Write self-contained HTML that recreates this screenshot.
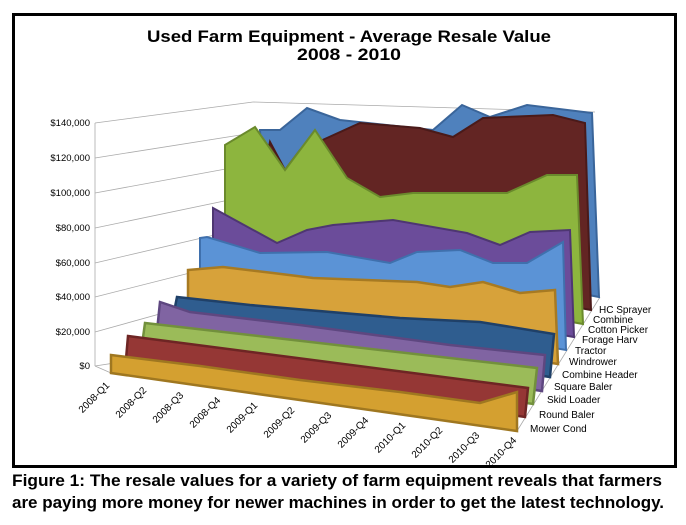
<!DOCTYPE html>
<html><head><meta charset="utf-8"><style>
body{margin:0;background:#fff;width:686px;height:520px;overflow:hidden;font-family:"Liberation Sans",sans-serif}
</style></head><body>
<svg width="686" height="520" xmlns="http://www.w3.org/2000/svg" font-family="Liberation Sans, sans-serif">
<rect x="13.5" y="14.5" width="662" height="452" fill="#fff" stroke="#000" stroke-width="3"/>
<text x="349" y="42" text-anchor="middle" font-size="17" font-weight="bold" textLength="404" lengthAdjust="spacingAndGlyphs">Used Farm Equipment - Average Resale Value</text>
<text x="349" y="60" text-anchor="middle" font-size="17" font-weight="bold" textLength="104" lengthAdjust="spacingAndGlyphs">2008 - 2010</text>
<g stroke="#aaa" stroke-width="0.8" fill="none">
<line x1="95" y1="123" x2="95" y2="366"/>
<line x1="95" y1="366" x2="265" y2="340"/>
<line x1="253" y1="102" x2="595" y2="112"/>
<line x1="95" y1="123" x2="253" y2="102"/>
<line x1="95" y1="158" x2="253" y2="133"/>
<line x1="95" y1="193" x2="253" y2="164"/>
<line x1="95" y1="228" x2="253" y2="195"/>
<line x1="95" y1="263" x2="253" y2="226"/>
<line x1="95" y1="297" x2="253" y2="257"/>
<line x1="95" y1="332" x2="253" y2="288"/>
<line x1="95" y1="366" x2="111" y2="373"/>
<line x1="111" y1="373" x2="517" y2="431"/>
<line x1="517" y1="431" x2="600" y2="297"/>
</g>
<g font-size="9.5" text-anchor="end">
<text x="90" y="126">$140,000</text><text x="90" y="161">$120,000</text>
<text x="90" y="196">$100,000</text><text x="90" y="231">$80,000</text>
<text x="90" y="266">$60,000</text><text x="90" y="300">$40,000</text>
<text x="90" y="335">$20,000</text><text x="90" y="369">$0</text>
</g>
<polygon fill="#4f81bd" stroke="#3a659a" stroke-width="2" points="260,130 280,130 307,108 340,120 433,130 462,105 490,117 527,105 592,113 599,297 265,233"/>
<polygon fill="#632523" stroke="#4a1a19" stroke-width="2" points="270,142 285,170 300,150 327,138 360,123 420,128 453,137 483,118 553,115 585,123 591,310 250,247"/>
<polygon fill="#8db53e" stroke="#6a8a2c" stroke-width="2" points="225,145 255,127 285,170 315,130 347,178 380,197 413,193 507,193 547,175 577,175 583,324 234,261 225,261"/>
<polygon fill="#6b4c9a" stroke="#4e3672" stroke-width="2" points="213,208 277,243 307,230 333,225 393,220 467,233 500,245 530,232 570,230 574,337 219,275 213,275"/>
<polygon fill="#5b93d6" stroke="#3f70ad" stroke-width="2" points="200,238 207,237 260,253 327,252 390,263 417,252 460,250 493,263 527,263 563,242 566,350 200,289"/>
<polygon fill="#d7a23a" stroke="#a77a22" stroke-width="2.5" points="188,270 223,267 273,273 313,278 417,282 450,287 483,282 520,293 555,290 558,364 188,303"/>
<polygon fill="#2f5d8f" stroke="#1f4068" stroke-width="2.5" points="177,297 250,305 400,318 480,322 554,334 550,377 173,317"/>
<polygon fill="#8064a2" stroke="#5e4780" stroke-width="2.5" points="160,302 190,312 300,325 450,345 545,355 542,391 157,331"/>
<polygon fill="#9bbb59" stroke="#72903c" stroke-width="2.5" points="145,323 537,368 533,404 142,345"/>
<polygon fill="#953735" stroke="#6e2524" stroke-width="2.5" points="128,336 528,388 525,417 126,359"/>
<polygon fill="#d4a030" stroke="#9f7720" stroke-width="2.5" points="111,355 200,366 300,380 400,392 480,403 517,392 517,431 111,373"/>
<g font-size="10">
<text x="599" y="313">HC Sprayer</text><text x="593" y="323">Combine</text>
<text x="588" y="333">Cotton Picker</text><text x="582" y="343">Forage Harv</text>
<text x="575" y="354">Tractor</text><text x="569" y="365">Windrower</text>
<text x="562" y="378">Combine Header</text><text x="554" y="390">Square Baler</text>
<text x="547" y="403">Skid Loader</text><text x="539" y="418">Round Baler</text>
<text x="530" y="432">Mower Cond</text>
</g>
<g font-size="10" text-anchor="end">
<text transform="translate(110,386) rotate(-45)">2008-Q1</text>
<text transform="translate(147,391) rotate(-45)">2008-Q2</text>
<text transform="translate(184,396) rotate(-45)">2008-Q3</text>
<text transform="translate(221,401) rotate(-45)">2008-Q4</text>
<text transform="translate(258,406) rotate(-45)">2009-Q1</text>
<text transform="translate(295,411) rotate(-45)">2009-Q2</text>
<text transform="translate(332,416) rotate(-45)">2009-Q3</text>
<text transform="translate(369,421) rotate(-45)">2009-Q4</text>
<text transform="translate(406,426) rotate(-45)">2010-Q1</text>
<text transform="translate(443,431) rotate(-45)">2010-Q2</text>
<text transform="translate(480,436) rotate(-45)">2010-Q3</text>
<text transform="translate(517,441) rotate(-45)">2010-Q4</text>
</g>
<text x="12" y="486" font-size="17" font-weight="bold" textLength="650" lengthAdjust="spacingAndGlyphs">Figure 1: The resale values for a variety of farm equipment reveals that farmers</text>
<text x="12" y="508" font-size="17" font-weight="bold" textLength="652" lengthAdjust="spacingAndGlyphs">are paying more money for newer machines in order to get the latest technology.</text>
</svg>
</body></html>
